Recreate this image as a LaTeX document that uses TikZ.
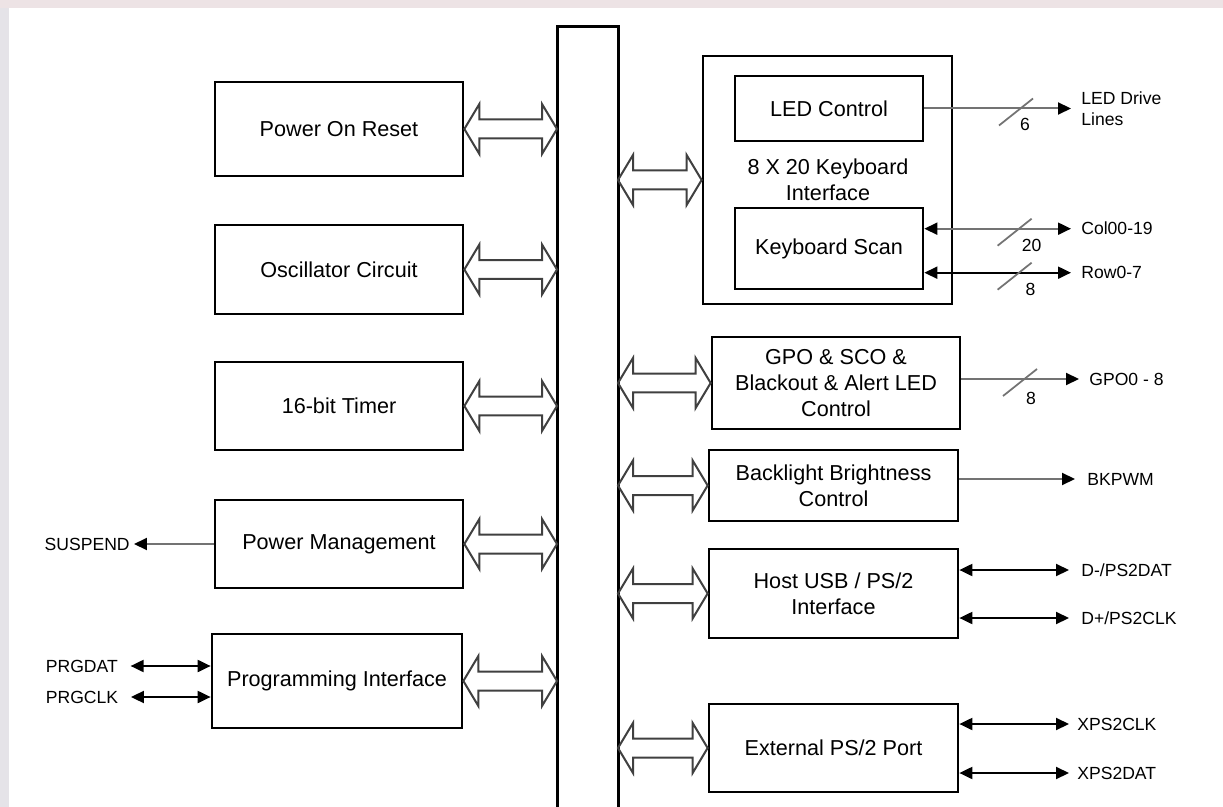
\documentclass[tikz,border=0pt]{standalone}
\usepackage{fontspec}
\setmainfont{Liberation Sans}
\usetikzlibrary{arrows.meta, positioning, calc}
\definecolor{TopStrip}{rgb}{0.93, 0.89, 0.90}
\definecolor{SideStrip}{rgb}{0.90, 0.89, 0.91}
\definecolor{WireGray}{rgb}{0.45, 0.45, 0.45}

\begin{document}
\begin{tikzpicture}[
    x=0.02cm, y=-0.02cm,
    >={Triangle[length=0.26cm, width=0.24cm, color=black]},
    block/.style={draw, line width=0.055cm, inner sep=0pt, align=center,
        font=\fontsize{12.3}{15}\selectfont},
    sig/.style={font=\fontsize{10}{12}\selectfont, align=left, inner ysep=1pt},
    wire/.style={line width=0.04cm},
    graywire/.style={wire, WireGray},
    slash/.style={line width=0.035cm, WireGray},
    hollow/.style={draw=black!75, line width=0.04cm,
        to path={let \p1=(\tikztostart), \p2=(\tikztotarget) in
            -- (\x1+0.3cm,\y1+0.5cm) -- (\x1+0.3cm,\y1+0.19cm) -- (\x2-0.3cm,\y1+0.19cm)
            -- (\x2-0.3cm,\y1+0.5cm) -- (\x2,\y1) -- (\x2-0.3cm,\y1-0.5cm)
            -- (\x2-0.3cm,\y1-0.19cm) -- (\x1+0.3cm,\y1-0.19cm) -- (\x1+0.3cm,\y1-0.5cm) -- cycle}},
]

\useasboundingbox (0,0) rectangle (1223,807);
\fill[white] (0,0) rectangle (1223,807);
\fill[TopStrip] (0,0) rectangle (1223,8);
\fill[SideStrip] (0,8) rectangle (9,807);

% bus
\coordinate (busL) at (557,27);
\coordinate (busR) at (618,27);
\draw[line width=0.06cm] (557,807) -- (busL) -- (busR) -- (618,807);

% left blocks
\node[block, minimum width=4.96cm, minimum height=1.88cm] (por) at (339,129) {Power On Reset};
\node[block, minimum width=4.96cm, minimum height=1.78cm] (osc) at (339,269.5) {Oscillator Circuit};
\node[block, minimum width=4.96cm, minimum height=1.76cm] (timer) at (339,406) {16-bit Timer};
\node[block, minimum width=4.96cm, minimum height=1.76cm] (pm) at (339,544) {Power Management};
\node[block, minimum width=5.00cm, minimum height=1.88cm] (prog) at (337,681) {Programming Interface};

% keyboard interface
\node[block, minimum width=4.98cm, minimum height=4.96cm] (kbd) at (827.5,180) {};
\node[block, minimum width=3.76cm, minimum height=1.30cm] (led) at (829,108.5) {LED Control};
\node[block, minimum width=3.76cm, minimum height=1.62cm] (scan) at (829,248.5) {Keyboard Scan};
\node[align=center, font=\fontsize{12.3}{15}\selectfont] (kbdtxt) at (828,180) {8 X 20 Keyboard\\Interface};

% right blocks
\node[block, minimum width=4.96cm, minimum height=1.84cm] (gpo) at (836,383)
    {GPO \& SCO \&\\Blackout \& Alert LED\\Control};
\node[block, minimum width=4.98cm, minimum height=1.42cm] (blt) at (833.5,485.5)
    {Backlight Brightness\\Control};
\node[block, minimum width=4.98cm, minimum height=1.78cm] (host) at (833.5,593.5)
    {Host USB / PS/2\\Interface};
\node[block, minimum width=4.98cm, minimum height=1.76cm] (ext) at (833.5,748) {External PS/2 Port};

% bus arrows
\foreach \b in {por,osc,timer,pm,prog}
    \draw[hollow] (\b.east) to (\b.east -| busL);
\foreach \b in {kbd,gpo,blt,host,ext}
    \draw[hollow] (busR |- \b.west) to (\b.west);

% left signals
\node[sig, anchor=east, inner xsep=0.08cm] (suspend) at (134,544) {SUSPEND};
\node[sig, anchor=west, inner xsep=0.25cm] (prgdat) at (33,666) {PRGDAT};
\node[sig, anchor=west, inner xsep=0.25cm] (prgclk) at (33,697) {PRGCLK};
\draw[graywire, ->] (pm.west) -- (suspend.east);
\draw[wire, <->] (prgdat.east) -- (prgdat.east -| prog.west);
\draw[wire, <->] (prgclk.east) -- (prgclk.east -| prog.west);

% right signals
\node[sig, anchor=west, inner xsep=0.2cm] (leddrv) at (1071,108.5) {LED Drive\\Lines};
\node[sig, anchor=west, inner xsep=0.2cm] (col) at (1071,228.7) {Col00-19};
\node[sig, anchor=west, inner xsep=0.2cm] (row) at (1071,272.7) {Row0-7};
\node[sig, anchor=west, inner xsep=0.2cm] (gpoout) at (1079,379) {GPO0 - 8};
\node[sig, anchor=west, inner xsep=0.24cm] (bkpwm) at (1075,479) {BKPWM};
\node[sig, anchor=west, inner xsep=0.24cm] (dminus) at (1069,570) {D-/PS2DAT};
\node[sig, anchor=west, inner xsep=0.24cm] (dplus) at (1069,618) {D+/PS2CLK};
\node[sig, anchor=west, inner xsep=0.16cm] (xclk) at (1069,724) {XPS2CLK};
\node[sig, anchor=west, inner xsep=0.16cm] (xdat) at (1069,773) {XPS2DAT};

\draw[graywire, ->] (led.east) -- (leddrv.west);
\draw[graywire, <->] (col.west -| scan.east) -- (col.west);
\draw[wire, <->] (row.west -| scan.east) -- (row.west);
\draw[graywire, ->] (gpoout.west -| gpo.east) -- (gpoout.west);
\draw[graywire, ->] (bkpwm.west -| blt.east) -- (bkpwm.west);
\draw[wire, <->] (dminus.west -| host.east) -- (dminus.west);
\draw[wire, <->] (dplus.west -| host.east) -- (dplus.west);
\draw[wire, <->] (xclk.west -| ext.east) -- (xclk.west);
\draw[wire, <->] (xdat.west -| ext.east) -- (xdat.west);

% bus width marks
\coordinate (s1) at (1020,108.5);
\coordinate (s2) at (1018.6,228.7);
\coordinate (s3) at (1018.6,272.7);
\coordinate (s4) at (1024,379);
\foreach \s in {s1,s2,s3,s4}
    \draw[slash] ($(\s)+(-21,17)$) -- ($(\s)+(13,-10)$);
\node[sig, inner sep=0pt] (n1) at ($(s1)+(5,16)$) {6};
\node[sig, inner sep=0pt] (n2) at ($(s2)+(13,17)$) {20};
\node[sig, inner sep=0pt] (n3) at ($(s3)+(12,17)$) {8};
\node[sig, inner sep=0pt] (n4) at ($(s4)+(7,19)$) {8};

\end{tikzpicture}
\end{document}
